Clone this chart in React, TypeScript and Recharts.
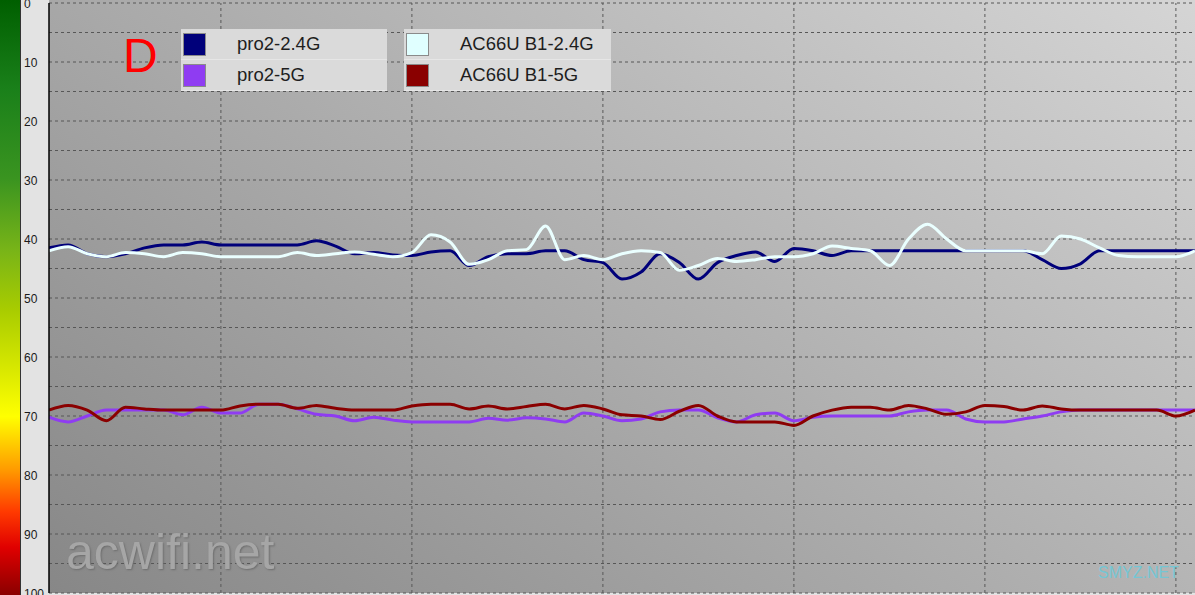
import React from "react"
import {
  LineChart,
  Line,
  XAxis,
  YAxis,
  CartesianGrid,
  ReferenceLine,
} from "recharts"

// sample index (one reading per step), gridlines every 10 samples
const samples = [
  1, 2, 3, 4, 5, 6, 7, 8, 9, 10,
  11, 12, 13, 14, 15, 16, 17, 18, 19, 20,
  21, 22, 23, 24, 25, 26, 27, 28, 29, 30,
  31, 32, 33, 34, 35, 36, 37, 38, 39, 40,
  41, 42, 43, 44, 45, 46, 47, 48, 49, 50,
  51, 52, 53, 54, 55, 56, 57, 58, 59, 60, 61,
]

const pro2_24 = [
  41.5, 41, 42.5, 43, 42.5, 41.5, 41, 41, 40.5, 41,
  41, 41, 41, 41, 40.3, 41.2, 42.5, 42.3, 42.7, 42.8,
  42.2, 42, 44.5, 43, 42.5, 42.5, 42, 42, 43.5, 44,
  46.8, 45.6, 42.5, 44, 46.8, 44, 42.8, 42.2, 43.8, 41.6,
  42, 42.8, 42, 42, 42, 42, 42, 42, 42, 42,
  42, 42, 43.5, 45, 44.2, 42, 42, 42, 42, 42, 42,
]

const pro2_5 = [
  70.2, 71, 70, 69, 69, 69, 69, 69.8, 68.5, 69.5,
  69.5, 68, 68, 68.8, 69.7, 70, 70.8, 70.2, 70.7, 71,
  71, 71, 71, 70.4, 70.7, 70.3, 70.5, 71, 69.5, 70,
  70.8, 70.5, 69.3, 69, 69, 70.3, 71, 69.8, 69.5, 70.8,
  70.2, 70, 70, 70, 70, 69.3, 69, 69, 70.5, 71,
  71, 70.5, 70, 69.3, 69, 69, 69, 69, 69, 69, 69,
]

const ac66_24 = [
  42, 41.3, 42.5, 43, 42.3, 42.5, 43, 42.3, 42.5, 43,
  43, 43, 43, 42.3, 42.8, 42.5, 42.2, 42.6, 43, 42.3,
  39.3, 40.5, 44.3, 43.5, 42, 41.8, 37.8, 43.5, 42.8, 43.5,
  42.5, 42, 42.3, 45.3, 44.5, 43.3, 43.8, 43.5, 43, 43,
  42.5, 41.2, 41.6, 42, 44.5, 40, 37.5, 40, 42, 42,
  42, 42, 42.5, 39.5, 40, 41.5, 42.8, 43, 43, 43, 42,
]

const ac66_5 = [
  69, 68.2, 69, 70.8, 68.5, 68.8, 69, 69, 69, 69,
  68.3, 68, 68, 68.7, 68.2, 68.7, 69, 69, 69, 68.3,
  68, 68, 68.8, 68.3, 68.8, 68.4, 68, 68.8, 68.2, 68.8,
  69.8, 70, 70.6, 69.2, 68.2, 70, 71, 71, 71, 71.6,
  70, 69, 68.5, 68.5, 69, 68.2, 68.8, 69.7, 69.3, 68.2,
  68.4, 69, 68.3, 68.8, 69, 69, 69, 69, 69, 70, 69,
]

const yTicks = [0, 5, 10, 15, 20, 25, 30, 35, 40, 45, 50, 55, 60, 65, 70, 75, 80, 85, 90, 95, 100]
const xTicks = [10, 20, 30, 40, 50, 60]

const data = samples.map((t, i) => ({
  t,
  pro24: pro2_24[i],
  pro5: pro2_5[i],
  ac24: ac66_24[i],
  ac5: ac66_5[i],
}))

const font = "'Liberation Sans', Arial, sans-serif"
const gridColor = "#575757"

const YTick = (props: any) => {
  const { y, payload } = props
  if (payload.value % 10 !== 0) return <g />
  return (
    <text x={24} y={y} dy={4.5} fontSize={12} fill="#1a1a1a" fontFamily={font}>
      {payload.value}
    </text>
  )
}

function LegendRow({ color, label }: { color: string; label: string }) {
  return (
    <div
      style={{
        height: 30,
        display: "flex",
        alignItems: "center",
        background: "#dadada",
        borderBottom: "1px solid #e6e6e6",
      }}
    >
      <div
        style={{
          width: 21,
          height: 21,
          marginLeft: 2,
          background: color,
          border: "1px solid #8a8a8a",
        }}
      />
      <span style={{ marginLeft: 31, fontSize: 18.5, color: "#1e1e1e", fontFamily: font }}>
        {label}
      </span>
    </div>
  )
}

export default function App() {
  return (
    <div style={{ position: "absolute", left: 0, top: 0, width: 1195, height: 595, overflow: "hidden", background: "#e3e3e3" }}>
      {/* signal colour bar */}
      <div
        style={{
          position: "absolute",
          left: 0,
          top: 0,
          width: 20,
          height: 595,
          borderRight: "1px solid #333",
          background:
            "linear-gradient(to bottom, #005f00 0%, #1a801a 15%, #3a9420 30%, #78b418 42%, #a8cc00 52%, #d8e800 62%, #ffff00 70%, #ff9a00 79%, #ff3a00 86%, #e00000 92%, #8a0000 100%)",
        }}
      />
      {/* plot background */}
      <div
        style={{
          position: "absolute",
          left: 49,
          top: 0,
          width: 1146,
          height: 593,
          background: "linear-gradient(36deg, #878787, #d5d5d5)",
        }}
      />
      <div style={{ position: "absolute", left: 0, top: 0 }}>
        <LineChart width={1195} height={595} data={data} margin={{ top: 3, right: 0, bottom: 2, left: 0 }}>
          <CartesianGrid stroke={gridColor} strokeDasharray="3 3" vertical={false} />
          <XAxis
            dataKey="t"
            type="number"
            domain={[1, 61]}
            ticks={xTicks}
            height={0}
            tick={false}
            tickLine={false}
            axisLine={{ stroke: "#000", strokeWidth: 1.5 }}
            allowDataOverflow
          />
          <YAxis
            type="number"
            reversed
            domain={[0, 100]}
            ticks={yTicks}
            width={49}
            tick={<YTick />}
            tickLine={false}
            axisLine={{ stroke: "#000", strokeWidth: 1.5 }}
            interval={0}
          />
          {xTicks.map((v) => (
            <ReferenceLine key={v} x={v} stroke={gridColor} strokeDasharray="3 3" />
          ))}
          <Line type="monotone" dataKey="pro24" stroke="#00007a" strokeWidth={3} dot={false} isAnimationActive={false} />
          <Line type="monotone" dataKey="pro5" stroke="#8f3cf2" strokeWidth={3} dot={false} isAnimationActive={false} />
          <Line type="monotone" dataKey="ac24" stroke="#eaffff" strokeWidth={3} dot={false} isAnimationActive={false} />
          <Line type="monotone" dataKey="ac5" stroke="#8a0000" strokeWidth={3} dot={false} isAnimationActive={false} />
        </LineChart>
      </div>
      {/* legend */}
      <div style={{ position: "absolute", left: 181, top: 29, width: 206 }}>
        <LegendRow color="#00007a" label="pro2-2.4G" />
        <LegendRow color="#8f3cf2" label="pro2-5G" />
      </div>
      <div style={{ position: "absolute", left: 404, top: 29, width: 207 }}>
        <LegendRow color="#e0ffff" label="AC66U B1-2.4G" />
        <LegendRow color="#8a0000" label="AC66U B1-5G" />
      </div>
      <div style={{ position: "absolute", left: 123, top: 28, fontSize: 48, color: "#ff0000", fontFamily: font, lineHeight: "56px" }}>
        D
      </div>
      <div
        style={{
          position: "absolute",
          left: 66,
          top: 522,
          fontSize: 50,
          color: "#a6a6a6",
          fontFamily: font,
          lineHeight: "60px",
          textShadow: "1px 1px 2px #6e6e6e",
        }}
      >
        acwifi.net
      </div>
      <div style={{ position: "absolute", left: 1098, top: 563, fontSize: 16, color: "#74c6d4", fontFamily: font, lineHeight: "20px" }}>
        SMYZ.NET
      </div>
    </div>
  )
}
